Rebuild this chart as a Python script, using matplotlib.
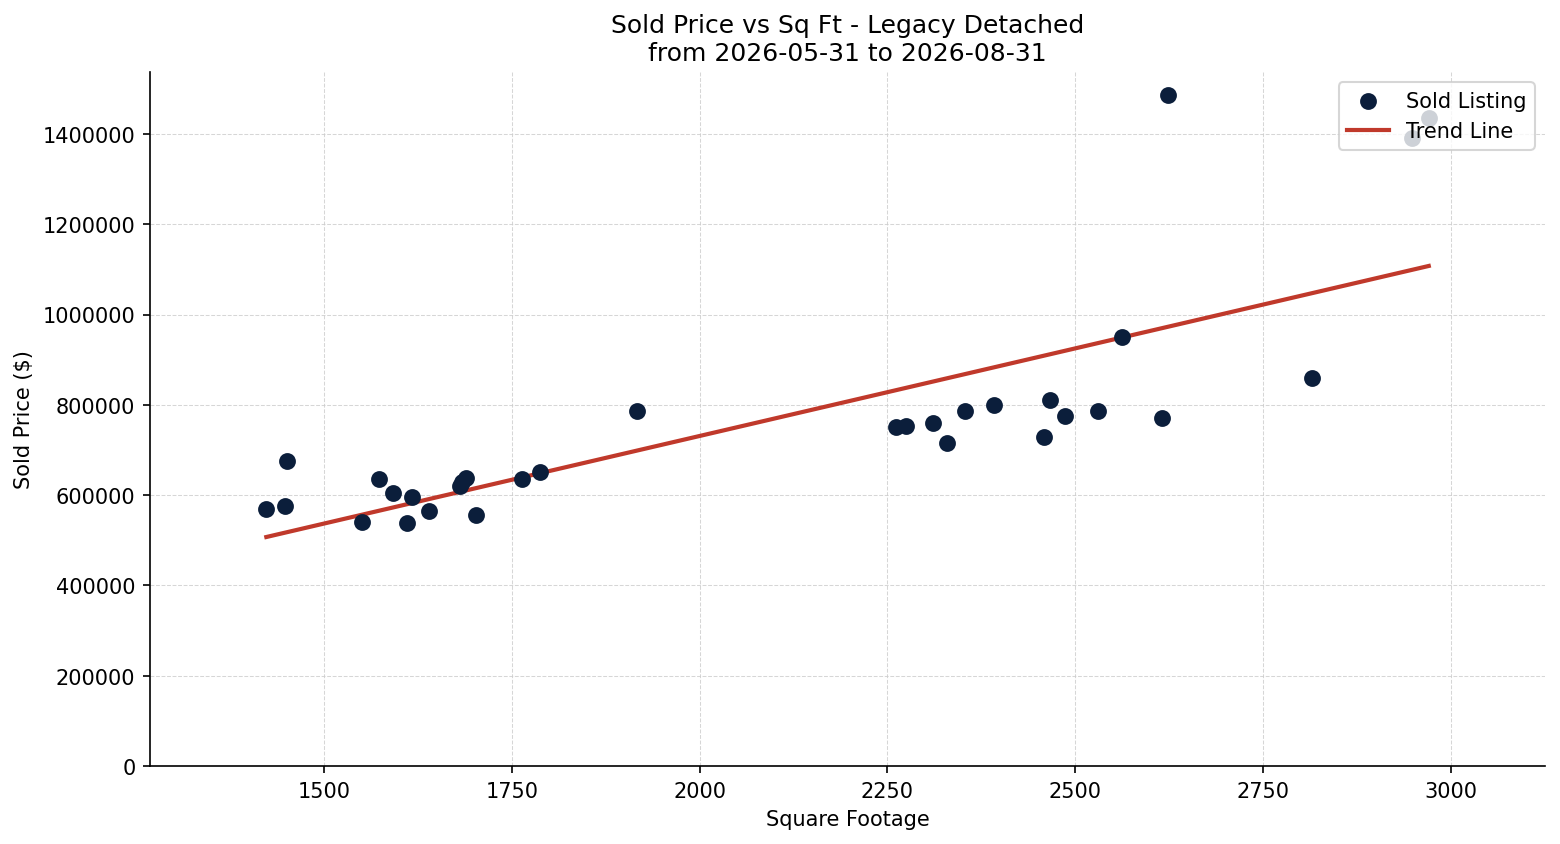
import numpy as np
import matplotlib
matplotlib.use("Agg")
import matplotlib.pyplot as plt

# sold listings
sqft = [1423, 1448, 1451, 1551, 1573, 1592, 1611, 1617, 1640, 1681, 1684, 1689,
        1702, 1764, 1788, 1916, 2262, 2275, 2311, 2330, 2354, 2392, 2458, 2467,
        2487, 2531, 2563, 2616, 2624, 2816, 2948, 2971]
price = [569000, 576000, 675000, 540000, 635000, 605000, 538000, 596000, 565000,
         620000, 628000, 639000, 556000, 636000, 651000, 786000, 751000, 753000,
         760000, 715000, 786000, 800000, 729000, 811000, 775000, 786000, 950000,
         771000, 1486000, 860000, 1391000, 1435000]

title = "Sold Price vs Sq Ft - Legacy Detached\nfrom 2026-05-31 to 2026-08-31"

x = np.array(sqft)
y = np.array(price)
slope, intercept = np.polyfit(x, y, 1)
x_line = np.array([x.min(), x.max()])

fig, ax = plt.subplots(figsize=(10.4, 5.633), dpi=150)
ax.scatter(x, y, s=50, color="#0b1e3b", label="Sold Listing", zorder=3)
ax.plot(x_line, slope * x_line + intercept, color="#c0392b", lw=2, label="Trend Line", zorder=2)

span = x.max() - x.min()
ax.set_xlim(x.min() - 0.1 * span, x.max() + 0.1 * span)
ax.set_ylim(0, 1537000)
ax.set_xticks([1500, 1750, 2000, 2250, 2500, 2750, 3000])
ax.ticklabel_format(style="plain", axis="y")

ax.set_title(title, fontsize=12)
ax.set_xlabel("Square Footage")
ax.set_ylabel("Sold Price ($)")
ax.grid(True, linestyle="--", linewidth=0.5, color="#cccccc", alpha=0.8)
ax.spines["top"].set_visible(False)
ax.spines["right"].set_visible(False)
ax.legend(loc="upper right")

fig.subplots_adjust(left=0.0962, right=0.9904, bottom=0.0923, top=0.9136)
fig.savefig("out.png", dpi=150)
